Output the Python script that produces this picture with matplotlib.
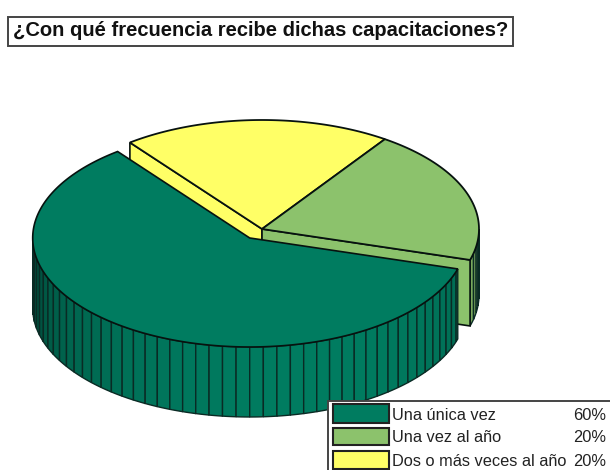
import numpy as np
import matplotlib
matplotlib.use("Agg")
import matplotlib.pyplot as plt
from matplotlib.patches import Polygon, Rectangle

# data
categories = ["Una única vez", "Una vez al año", "Dos o más veces al año"]
values = [60, 20, 20]
colors = ["#007c60", "#8cc26c", "#ffff66"]
title = "¿Con qué frecuencia recibe dichas capacitaciones?"

# pie geometry, in pixels
cx, cy = 262, 229
rx, ry = 217, 109
depth_back = 66
depth_front = 70
explode = 0.10
start_angle = 127.5
step = 3.6   # one side facet per 1%

plt.rcParams["font.family"] = ["Liberation Sans", "DejaVu Sans"]

fig = plt.figure(figsize=(6.1, 4.7), dpi=100)
ax = fig.add_axes([0, 0, 1, 1])
ax.set_xlim(0, 610)
ax.set_ylim(470, 0)
ax.axis("off")

EDGE = "#07120f"
FACET_EDGE = "#0a2a24"


def rim(a1, a2, x0, y0):
    t = np.radians(np.linspace(a1, a2, max(int(abs(a2 - a1)) * 2, 2)))
    return np.column_stack([x0 + rx * np.cos(t), y0 - ry * np.sin(t)])


def shade(color, k):
    return tuple(c * k for c in matplotlib.colors.to_rgb(color))


def rim_point(a):
    return np.array([cx + rx * np.cos(np.radians(a)), cy - ry * np.sin(np.radians(a))])


def draw_side(a1, a2, x0, y0, depth, color, z):
    # outer wall, only the front half of the pie is visible
    a = max(a1, 180)
    while a < a2 - 0.01:
        b = min(a + step, a2)
        top = rim(a, b, x0, y0)
        bottom = top[::-1] + [0, depth]
        # darker towards the left of the pie
        k = 0.65 + 0.35 * max(np.cos(np.radians((a + b) / 2 - 285)), 0) ** 0.7
        ax.add_patch(Polygon(np.vstack([top, bottom]), closed=True, fc=shade(color, k),
                             ec=FACET_EDGE, lw=1.0, zorder=z))
        a = b


# each slice gets its angular range from its value
spans = []
angle = start_angle
for v in values:
    spans.append((angle, angle + v * 3.6))
    angle += v * 3.6

# exploded slice offset along its middle direction
a1, a2 = spans[0]
mid = np.radians((a1 + a2) / 2)
ex = cx + explode * rx * np.cos(mid)
ey = cy - explode * ry * np.sin(mid)

# cut walls of the back slices, seen below their straight edges
walls = [(2, spans[2][1]), (1, spans[1][0])]
for i, a in walls:
    tip = rim_point(a)
    pts = [[cx, cy], tip, tip + [0, depth_back], [cx, cy + depth_back]]
    ax.add_patch(Polygon(pts, closed=True, fc=colors[i], ec=EDGE, lw=1.2, zorder=2))

# small part of the green outer wall on the right
draw_side(spans[1][0], 360, cx, cy, depth_back, colors[1], 1)

# top faces of the back slices
for i in [2, 1]:
    a1, a2 = spans[i]
    pts = np.vstack([[cx, cy], rim(a1, a2, cx, cy)])
    ax.add_patch(Polygon(pts, closed=True, fc=colors[i], ec=EDGE, lw=1.3, zorder=3))

# front slice
a1, a2 = spans[0]
draw_side(a1, a2, ex, ey, depth_front, colors[0], 4)
pts = np.vstack([[ex, ey], rim(a1, a2, ex, ey)])
ax.add_patch(Polygon(pts, closed=True, fc=colors[0], ec=EDGE, lw=1.2, zorder=5))

# title box
ax.add_patch(Rectangle((8, 17), 505, 29, fc="white", ec="#444444", lw=1.4, zorder=6))
ax.text(13, 31, title, fontsize=14.5, fontweight="bold", color="#111111",
        va="center", ha="left", zorder=7)

# legend, runs past the bottom right corner
ax.add_patch(Rectangle((328, 401), 300, 90, fc="white", ec="#444444", lw=1.4, zorder=8))
swatch_y = [404, 428, 451]
swatch_h = [19, 17, 18]
text_y = [416, 438, 461]
for i, name in enumerate(categories):
    ax.add_patch(Rectangle((333, swatch_y[i]), 56, swatch_h[i], fc=colors[i], ec="#222222",
                           lw=1.5, zorder=9))
    ax.text(392, text_y[i], name, fontsize=11.8, color="#222222", va="center", ha="left", zorder=9)
    ax.text(606, text_y[i], f"{values[i]}%", fontsize=11.8, color="#222222",
            va="center", ha="right", zorder=9)

fig.savefig("out.png", dpi=100)
